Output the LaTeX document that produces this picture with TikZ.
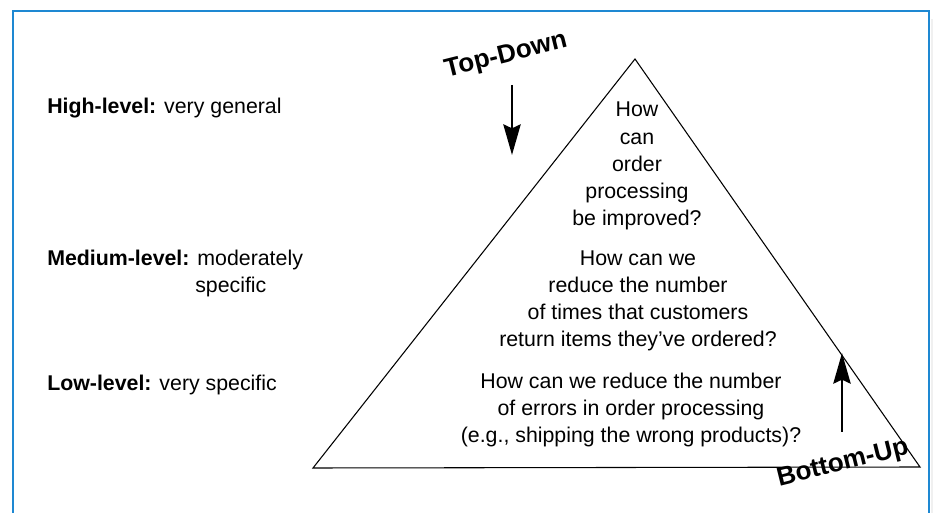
\documentclass[tikz,border=0pt]{standalone}
\usepackage{fontspec}
\setmainfont{Liberation Sans}
\usetikzlibrary{arrows.meta}
\definecolor{frameblue}{RGB}{30,136,210}
\tikzset{
  question/.style={align=center,inner sep=0pt,font=\fontsize{16}{20.3}\selectfont},
  levellabel/.style={anchor=west,inner sep=0pt,font=\fontsize{16}{20.3}\selectfont},
  direction/.style={inner sep=0pt,rotate=14,font=\fontsize{19.5}{22}\selectfont\bfseries},
  flow/.style={line width=1.6pt,-{Stealth[length=23pt,width=13pt,inset=3pt]}}
}
\begin{document}
\begin{tikzpicture}[x=0.75pt,y=0.75pt]
      \useasboundingbox (0,0) rectangle (933,-513);
      \fill[gray!12] (931,-19) rectangle (933,-513);
      \draw[frameblue,line width=1.5pt] (13,-513) -- (13,-11) -- (929,-11) -- (929,-513);
      \draw
        (635,-59) coordinate (apex)
        (313,-468) coordinate (left)
        (920,-467) coordinate (right);
      \draw[line width=0.8pt,line join=miter] (apex) -- (left) -- (right) -- cycle;
      \node[question] (high) at (637,-166) {How\\can\\order\\processing\\be improved?};
      \node[question] (medium) at (638,-301) {How can we\\reduce the number\\of times that customers\\return items they've ordered?};
      \node[question] (low) at (631,-410) {How can we reduce the number\\of errors in order processing\\(e.g., shipping the wrong products)?};
      \node[levellabel] (highlbl) at (47,-108) {\textbf{High-level:} very general};
      \node[levellabel] (medlbl) at (47,-260) {\textbf{Medium-level:} moderately};
      \node[levellabel] (medspec) at (195,-287) {specific};
      \node[levellabel] (lowlbl) at (47,-385) {\textbf{Low-level:} very specific};
      \node[direction] (topdown) at (506,-56) {Top-Down};
      \node[direction] (bottomup) at (843,-464) {Bottom-Up};
      \coordinate (tdstart) at (512,-85);
      \coordinate (tdend) at (512,-155);
      \coordinate (bustart) at (842,-432);
      \coordinate (buend) at (842,-353);
      \begin{scope}[flow]
        \draw (tdstart) to (tdend);
        \draw (bustart) to (buend);
      \end{scope}
    \end{tikzpicture}
\end{document}
